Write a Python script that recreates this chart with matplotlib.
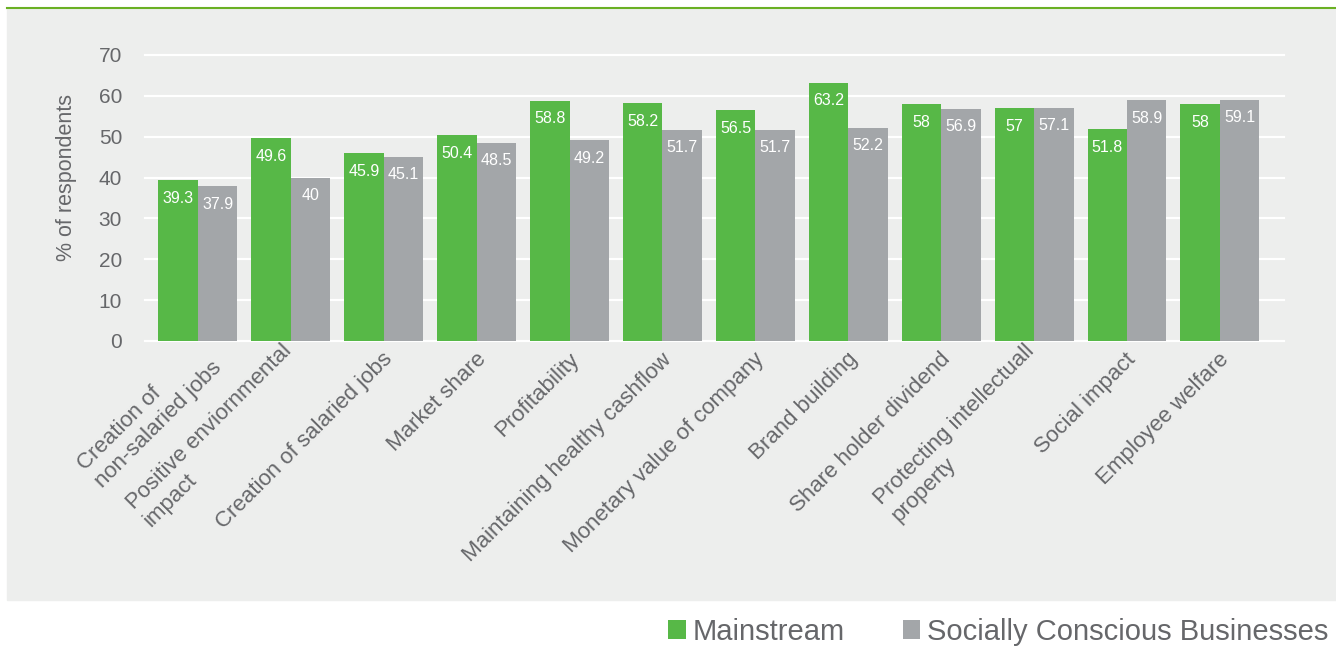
import matplotlib
matplotlib.use('Agg')
import matplotlib.pyplot as plt
import matplotlib.transforms as mtransforms
from matplotlib.patches import Rectangle
from matplotlib.lines import Line2D
import numpy as np

# chart data
categories = [
    'Creation of\nnon-salaried jobs',
    'Positive enviornmental\nimpact',
    'Creation of salaried jobs',
    'Market share',
    'Profitability',
    'Maintaining healthy cashflow',
    'Monetary value of company',
    'Brand building',
    'Share holder dividend',
    'Protecting intellectuall\nproperty',
    'Social impact',
    'Employee welfare',
]
mainstream = [39.3, 49.6, 45.9, 50.4, 58.8, 58.2, 56.5, 63.2, 58, 57, 51.8, 58]
socially_conscious = [37.9, 40, 45.1, 48.5, 49.2, 51.7, 51.7, 52.2, 56.9, 57.1, 58.9, 59.1]
series_names = ['Mainstream', 'Socially Conscious Businesses']
y_ticks = [0, 10, 20, 30, 40, 50, 60, 70]

GREEN = '#57b847'
GRAY = '#a3a6a9'
PANEL = '#edeeed'
TEXT = '#66676a'
LINE = '#6ab023'

plt.rcParams['font.family'] = ['Liberation Sans', 'DejaVu Sans']

W, H = 1336, 648
fig = plt.figure(figsize=(W / 100, H / 100), dpi=100)

# grey panel and green rule along the top
fig.patches.append(Rectangle((7 / W, 1 - 600 / H), 1 - 7 / W, 592 / H,
                             transform=fig.transFigure, color=PANEL, zorder=-10))
fig.add_artist(Line2D([7 / W, 1], [1 - 8 / H, 1 - 8 / H], color=LINE, lw=1.5, zorder=-5))

ax = fig.add_axes([145 / W, 1 - 341 / H, 1139 / W, 286 / H])
ax.set_facecolor('none')
ax.set_zorder(2)

x = np.arange(len(categories))
w = 0.425
bars1 = ax.bar(x - w / 2, mainstream, w, color=GREEN, zorder=2, label=series_names[0])
bars2 = ax.bar(x + w / 2, socially_conscious, w, color=GRAY, zorder=2, label=series_names[1])

# value labels inside the top of each bar
for bars, vals in [(bars1, mainstream), (bars2, socially_conscious)]:
    for rect, v in zip(bars, vals):
        ax.annotate(f'{v:g}', (rect.get_x() + rect.get_width() / 2, rect.get_height()),
                    xytext=(0, -13), textcoords='offset points',
                    ha='center', va='center', color='white', fontsize=11.5, zorder=3)

ax.set_xlim(-0.57, 11.69)
ax.set_ylim(0, 70)
ax.set_yticks(y_ticks)
ax.yaxis.grid(True, color='white', lw=1.6)
ax.set_axisbelow(True)
for gl in ax.get_ygridlines():
    gl.set_clip_on(False)
for s in ax.spines.values():
    s.set_visible(False)

ax.tick_params(axis='y', length=0, pad=16.5, labelsize=15, labelcolor=TEXT)
ax.tick_params(axis='x', length=0, pad=11, labelsize=16, labelcolor=TEXT)
ax.set_xticks(x)
ax.set_xticklabels(categories, rotation=45, ha='right', va='center',
                   rotation_mode='anchor', multialignment='left')

# nudge the slanted labels a little to the right, like the original
for i, lbl in enumerate(ax.get_xticklabels()):
    dx = 12 if i == 0 else 6
    lbl.set_transform(lbl.get_transform() + mtransforms.ScaledTranslation(dx / 100, 0, fig.dpi_scale_trans))

ax.set_ylabel('% of respondents', fontsize=15.5, color=TEXT)
ax.yaxis.set_label_coords(-0.0597, 0.57)

fig.legend(handles=[bars1, bars2], labels=series_names, loc='center right',
           bbox_to_anchor=(1328 / W, 1 - 632 / H), ncol=2, frameon=False,
           fontsize=21, labelcolor=TEXT, handlelength=0.6, handleheight=0.6,
           handletextpad=0.22, columnspacing=2.0, borderpad=0, borderaxespad=0)

fig.savefig('out.png', dpi=100)
